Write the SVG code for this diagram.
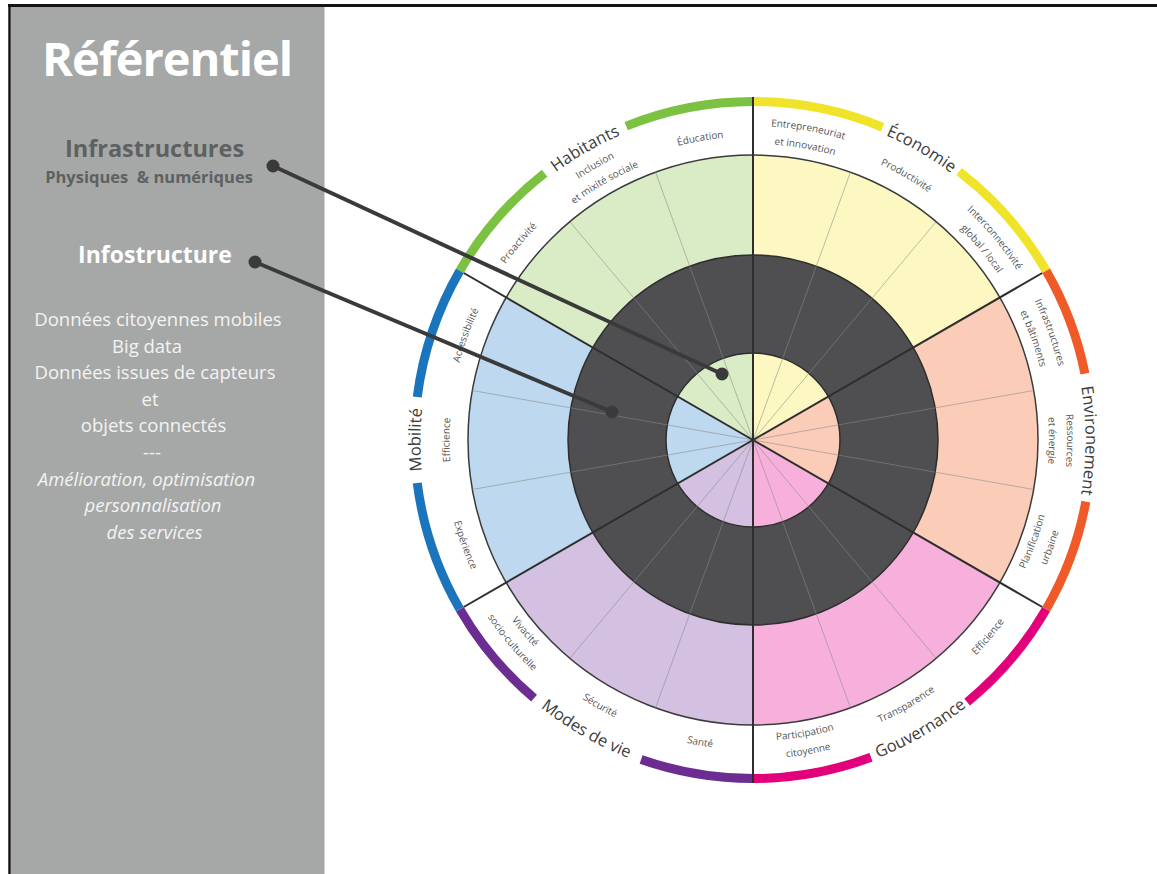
<svg xmlns="http://www.w3.org/2000/svg" width="1157" height="874" viewBox="0 0 1157 874">
<style>
.sub{font-family:"Open Sans","Liberation Sans",sans-serif;font-size:10px;fill:#555;text-anchor:middle}
.ttl{font-family:"Open Sans","Liberation Sans",sans-serif;font-size:16.5px;fill:#3c3c3c;text-anchor:middle}
.arc{fill:none;stroke-width:9}
.sep{stroke:#2e2e2e;stroke-width:2;fill:none}
.subl{stroke:#8a8a8a;stroke-width:1;opacity:.55}
.conn{stroke:#3a3a3a;stroke-width:4;stroke-linecap:round;fill:none}
.dot{fill:#3a3a3a}
.pan{font-family:"Open Sans","Liberation Sans",sans-serif;text-anchor:middle}
.body{font-size:18.5px;fill:#f3f3f3}
.it{font-style:italic}
</style>
<defs>
<path id="cwT" d="M753,772.5 A332.5,332.5 0 1 1 753,107.5 A332.5,332.5 0 1 1 753,772.5"/>
<path id="cwS" d="M753,743.5 A303.5,303.5 0 1 1 753,136.5 A303.5,303.5 0 1 1 753,743.5"/>
<path id="cw1" d="M753,754 A314,314 0 1 1 753,126 A314,314 0 1 1 753,754"/>
<path id="cw2" d="M753,736 A296,296 0 1 1 753,144 A296,296 0 1 1 753,736"/>
<path id="ccwT" d="M753,98.5 A341.5,341.5 0 1 0 753,781.5 A341.5,341.5 0 1 0 753,98.5"/>
<path id="ccwS" d="M753,130 A310,310 0 1 0 753,750 A310,310 0 1 0 753,130"/>
<path id="ccw1" d="M753,139 A301,301 0 1 0 753,741 A301,301 0 1 0 753,139"/>
<path id="ccw2" d="M753,121 A319,319 0 1 0 753,759 A319,319 0 1 0 753,121"/>
</defs>
<rect x="0" y="0" width="1157" height="874" fill="#ffffff"/>
<g id="panel">
<rect x="11" y="7" width="313.5" height="867" fill="#a5a8a7"/>
<line x1="8" y1="5.5" x2="1157" y2="5.5" stroke="#141414" stroke-width="3"/>
<line x1="9.5" y1="4" x2="9.5" y2="874" stroke="#141414" stroke-width="2.5"/>
</g>

<g id="sector-habitants">
<path d="M753,440 L506.18,297.5 A285,285 0 0 1 753,155 Z" fill="#d9ecc6"/>
<path class="arc" stroke="#7cc242" d="M459.85,270.75 A338.5,338.5 0 0 1 544.60,173.26 M626.20,126.15 A338.5,338.5 0 0 1 753,101.5"/>
<text class="ttl"><textPath href="#cwT" startOffset="870.5">Habitants</textPath></text>
<text class="sub"><textPath href="#cwS" startOffset="688.6">Proactivité</textPath></text>
<text class="sub"><textPath href="#cw1" startOffset="822.0">Inclusion</textPath><textPath href="#cw2" startOffset="774.9">et mixité sociale</textPath></text>
<text class="sub"><textPath href="#cwS" startOffset="900.5">Éducation</textPath></text>
</g>

<g id="sector-economie">
<path d="M753,440 L753,155 A285,285 0 0 1 999.82,297.5 Z" fill="#fdf8c2"/>
<path class="arc" stroke="#f0e42a" d="M753,101.5 A338.5,338.5 0 0 1 882.54,127.27 M959.07,171.45 A338.5,338.5 0 0 1 1046.15,270.75"/>
<text class="ttl"><textPath href="#cwT" startOffset="1218.7">Économie</textPath></text>
<text class="sub"><textPath href="#cw1" startOffset="1041.3">Entrepreneuriat</textPath><textPath href="#cw2" startOffset="981.6">et innovation</textPath></text>
<text class="sub"><textPath href="#cwS" startOffset="1112.4">Productivité</textPath></text>
<text class="sub"><textPath href="#cw1" startOffset="1260.5">Interconnectivité</textPath><textPath href="#cw2" startOffset="1188.2">global / local</textPath></text>
</g>

<g id="sector-environnement">
<path d="M753,440 L999.82,297.5 A285,285 0 0 1 999.82,582.5 Z" fill="#fbcdb9"/>
<path class="arc" stroke="#f05a28" d="M1046.15,270.75 A338.5,338.5 0 0 1 1084.94,373.67 M1085.83,501.69 A338.5,338.5 0 0 1 1046.15,609.25"/>
<text class="ttl"><textPath href="#cwT" startOffset="1566.9">Environement</textPath></text>
<text class="sub"><textPath href="#cw1" startOffset="1370.0">Infrastructures</textPath><textPath href="#cw2" startOffset="1291.5">et bâtiments</textPath></text>
<text class="sub"><textPath href="#cw1" startOffset="1479.6">Ressources</textPath><textPath href="#cw2" startOffset="1394.9">et énergie</textPath></text>
<text class="sub"><textPath href="#ccw1" startOffset="1313.3">Planification</textPath><textPath href="#ccw2" startOffset="1391.9">urbaine</textPath></text>
</g>

<g id="sector-gouvernance">
<path d="M753,440 L999.82,582.5 A285,285 0 0 1 753,725 Z" fill="#f7b0dc"/>
<path class="arc" stroke="#e2007b" d="M1046.15,609.25 A338.5,338.5 0 0 1 967.17,702.13 M870.99,757.27 A338.5,338.5 0 0 1 753,778.5"/>
<text class="ttl"><textPath href="#ccwT" startOffset="1251.7">Gouvernance</textPath></text>
<text class="sub"><textPath href="#ccwS" startOffset="1244.4">Efficience</textPath></text>
<text class="sub"><textPath href="#ccwS" startOffset="1136.2">Transparence</textPath></text>
<text class="sub"><textPath href="#ccw1" startOffset="998.2">Participation</textPath><textPath href="#ccw2" startOffset="1057.9">citoyenne</textPath></text>
</g>

<g id="sector-modes-de-vie">
<path d="M753,440 L753,725 A285,285 0 0 1 506.18,582.5 Z" fill="#d4c0e0"/>
<path class="arc" stroke="#6b2d91" d="M753,778.5 A338.5,338.5 0 0 1 641.12,759.48 M534.06,698.16 A338.5,338.5 0 0 1 459.85,609.25"/>
<text class="ttl"><textPath href="#ccwT" startOffset="894.0">Modes de vie</textPath></text>
<text class="sub"><textPath href="#ccwS" startOffset="919.8">Santé</textPath></text>
<text class="sub"><textPath href="#ccwS" startOffset="811.6">Sécurité</textPath></text>
<text class="sub"><textPath href="#ccw1" startOffset="683.0">Vivacité</textPath><textPath href="#ccw2" startOffset="723.8">socio-culturelle</textPath></text>
</g>

<g id="sector-mobilite">
<path d="M753,440 L506.18,582.5 A285,285 0 0 1 506.18,297.5 Z" fill="#bdd8ef"/>
<path class="arc" stroke="#1b75bc" d="M459.85,609.25 A338.5,338.5 0 0 1 417.24,483.01 M417.24,396.99 A338.5,338.5 0 0 1 459.85,270.75"/>
<text class="ttl"><textPath href="#cwT" startOffset="522.3">Mobilité</textPath></text>
<text class="sub"><textPath href="#ccwS" startOffset="595.2">Expérience</textPath></text>
<text class="sub"><textPath href="#cwS" startOffset="476.7">Efficience</textPath></text>
<text class="sub"><textPath href="#cwS" startOffset="582.7">Accessibilité</textPath></text>
</g>

<g id="rings">
<circle cx="753" cy="440" r="285" fill="none" stroke="#3a3a3a" stroke-width="1.5"/>
<circle cx="753" cy="440" r="136" fill="none" stroke="#4f4f51" stroke-width="98"/>
<circle cx="753" cy="440" r="185" fill="none" stroke="#2e2e2e" stroke-width="1.5"/>
<circle cx="753" cy="440" r="87" fill="none" stroke="#2e2e2e" stroke-width="1.5"/>
</g>

<g id="lines">
<g class="subl">
<line x1="753" y1="440" x2="569.81" y2="221.68"/>
<line x1="753" y1="440" x2="655.52" y2="172.19"/>
<line x1="753" y1="440" x2="850.48" y2="172.19"/>
<line x1="753" y1="440" x2="936.19" y2="221.68"/>
<line x1="753" y1="440" x2="1033.67" y2="390.51"/>
<line x1="753" y1="440" x2="1033.67" y2="489.49"/>
<line x1="753" y1="440" x2="936.19" y2="658.32"/>
<line x1="753" y1="440" x2="850.48" y2="707.81"/>
<line x1="753" y1="440" x2="655.52" y2="707.81"/>
<line x1="753" y1="440" x2="569.81" y2="658.32"/>
<line x1="753" y1="440" x2="472.33" y2="489.49"/>
<line x1="753" y1="440" x2="472.33" y2="390.51"/>
</g>
<g class="sep">
<line x1="753" y1="440" x2="463.75" y2="273"/>
<line x1="753" y1="440" x2="1042.25" y2="273"/>
<line x1="753" y1="440" x2="1042.25" y2="607"/>
<line x1="753" y1="440" x2="463.75" y2="607"/>
<line x1="753" y1="97" x2="753" y2="783"/>
</g>
</g>

<g id="connectors">
<line class="conn" x1="273" y1="166" x2="722" y2="374"/>
<circle class="dot" cx="273" cy="166" r="6.5"/>
<circle class="dot" cx="722" cy="374" r="6.5"/>
<line class="conn" x1="255" y1="262" x2="612" y2="412"/>
<circle class="dot" cx="255" cy="262" r="6.5"/>
<circle class="dot" cx="612" cy="412" r="6.5"/>
</g>

<g id="title">
<text class="pan" x="167.5" y="76" font-size="47" font-weight="700" fill="#ffffff" textLength="251">Référentiel</text>
</g>
<g id="infrastructures">
<text class="pan" x="154.5" y="157" font-size="23.5" font-weight="700" fill="#5d6161">Infrastructures</text>
<text class="pan" x="149" y="183" font-size="16.5" font-weight="700" fill="#5d6161" xml:space="preserve">Physiques  &amp; numériques</text>
</g>
<g id="infostructure">
<text class="pan" x="155" y="263" font-size="23" font-weight="700" fill="#ffffff">Infostructure</text>
<text class="pan body" x="158" y="326">Données citoyennes mobiles</text>
<text class="pan body" x="147" y="352.6">Big data</text>
<text class="pan body" x="155" y="379">Données issues de capteurs</text>
<text class="pan body" x="150" y="405.8">et</text>
<text class="pan body" x="153.5" y="432.4">objets connectés</text>
<text class="pan body" x="152" y="459">---</text>
<text class="pan body it" x="146.5" y="485.6">Amélioration, optimisation</text>
<text class="pan body it" x="153" y="512">personnalisation</text>
<text class="pan body it" x="154.5" y="539">des services</text>
</g>
</svg>
